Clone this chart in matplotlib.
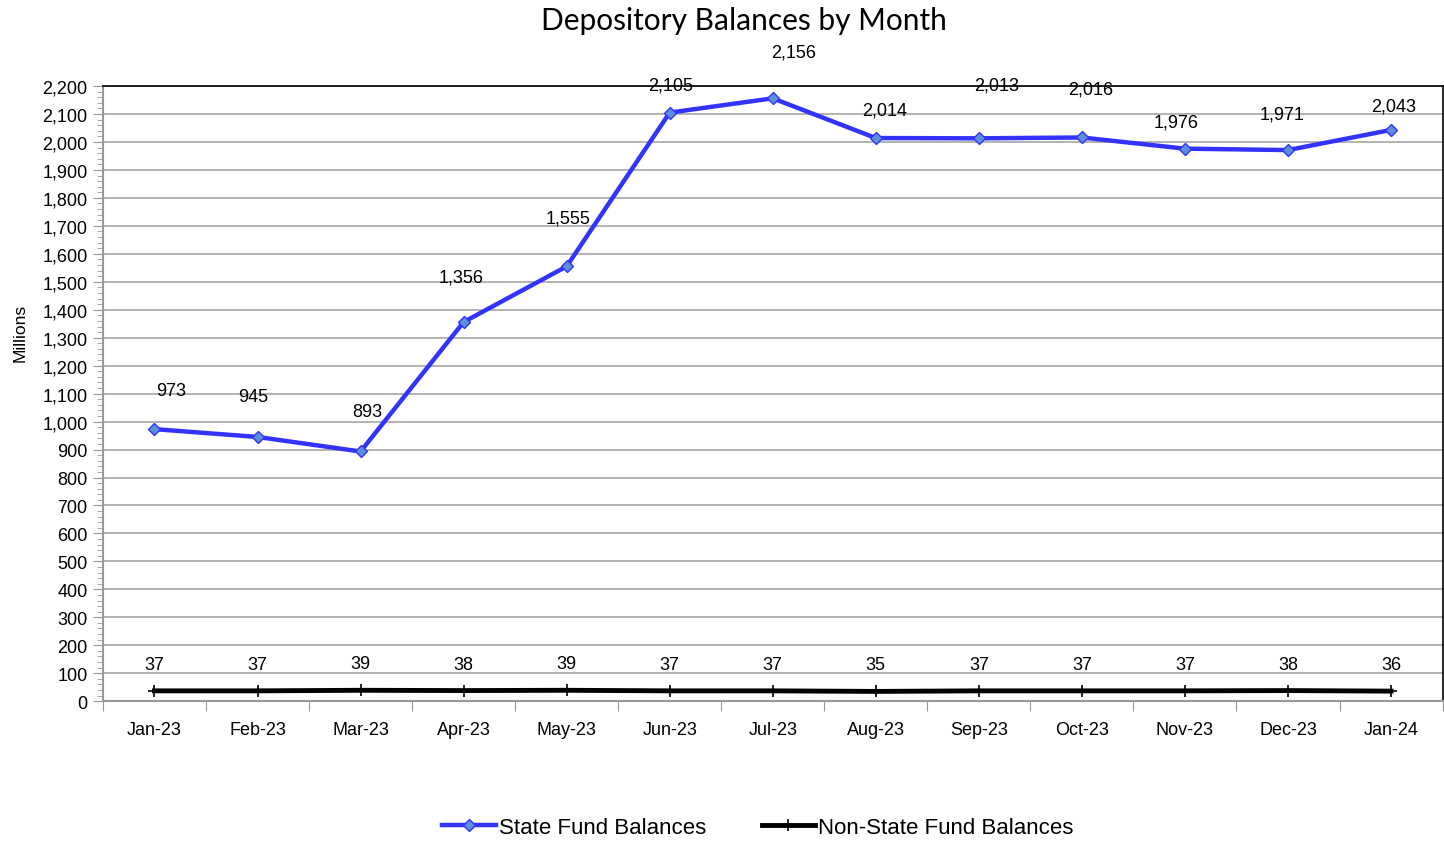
import matplotlib.pyplot as plt
from matplotlib.ticker import FixedLocator, MultipleLocator, FuncFormatter

months = ['Jan-23', 'Feb-23', 'Mar-23', 'Apr-23', 'May-23', 'Jun-23', 'Jul-23',
          'Aug-23', 'Sep-23', 'Oct-23', 'Nov-23', 'Dec-23', 'Jan-24']
state_funds = [973, 945, 893, 1356, 1555, 2105, 2156, 2014, 2013, 2016, 1976, 1971, 2043]
non_state_funds = [37, 37, 39, 38, 39, 37, 37, 35, 37, 37, 37, 38, 36]

# label offsets (points) from each state-fund point
state_label_dx = [12, -3, 5, -2, 1, 1, 15, 6, 13, 6, -6, -4, 2]
state_label_dy = [22, 23, 23, 26, 29, 14, 27, 14, 32, 29, 13, 20, 11]

plt.rcParams['font.family'] = ['Liberation Sans Narrow', 'Liberation Sans', 'DejaVu Sans']

fig = plt.figure(figsize=(14.44, 8.45), dpi=100)
ax = fig.add_axes([0.0713, 0.169, 0.9277, 0.728])

x = list(range(len(months)))
ax.plot(x, state_funds, color='#3333ff', lw=3.2, marker='D', ms=6.5,
        mfc='#5b8fd6', mec='#3333ff', mew=1, label='State Fund Balances', zorder=3)
ax.plot(x, non_state_funds, color='black', lw=3.5, marker='+', ms=9, mew=1.2,
        label='Non-State Fund Balances', zorder=3)

for i, v in enumerate(state_funds):
    ax.annotate(f'{v:,}', (i, v), xytext=(state_label_dx[i], state_label_dy[i]),
                textcoords='offset points', ha='center', va='bottom', fontsize=13,
                annotation_clip=False)
for i, v in enumerate(non_state_funds):
    ax.annotate(f'{v:,}', (i, v), xytext=(0, 13), textcoords='offset points',
                ha='center', va='bottom', fontsize=13)

ax.set_xlim(-0.5, len(months) - 0.5)
ax.set_ylim(0, 2200)

# category labels centred, tick marks between categories
ax.xaxis.set_major_locator(FixedLocator([i - 0.5 for i in range(len(months) + 1)]))
ax.xaxis.set_major_formatter(FuncFormatter(lambda v, p: ''))
ax.xaxis.set_minor_locator(FixedLocator(x))
ax.set_xticklabels(months, minor=True)
ax.tick_params(axis='x', which='major', length=7, color='#999999', direction='out')
ax.tick_params(axis='x', which='minor', length=0, pad=14, labelsize=13)

ax.yaxis.set_major_locator(MultipleLocator(100))
ax.yaxis.set_minor_locator(MultipleLocator(20))
ax.yaxis.set_major_formatter(FuncFormatter(lambda v, p: f'{int(v):,}'))
ax.tick_params(axis='y', which='major', length=7, color='#999999', labelsize=13, pad=4)
ax.tick_params(axis='y', which='minor', length=4, color='#999999')

ax.grid(axis='y', which='major', color='#a6a6a6', lw=1.2)
ax.set_axisbelow(True)
for side in ['left', 'bottom']:
    ax.spines[side].set_color('#999999')
    ax.spines[side].set_linewidth(1.5)
for side in ['top', 'right']:
    ax.spines[side].set_color('black')
    ax.spines[side].set_linewidth(1.2)

ax.set_ylabel('Millions', fontsize=12.5)
ax.yaxis.set_label_coords(-0.056, 0.60)
fig.text(0.515, 0.975, 'Depository Balances by Month', ha='center', va='center',
         fontsize=21.5, family=['Lato', 'DejaVu Sans'])

fig.legend(loc='center', bbox_to_anchor=(0.525, 0.02), ncol=2, frameon=False,
           fontsize=16, handlelength=2.4, columnspacing=2.5, handletextpad=0.15)

fig.savefig('out.png', dpi=100)
